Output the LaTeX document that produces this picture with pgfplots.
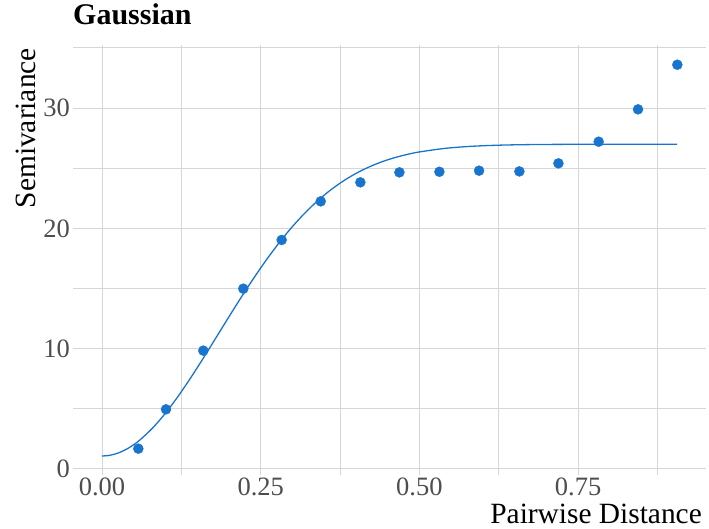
\documentclass[border=0pt]{standalone}
\usepackage{fontspec}
\setmainfont{Liberation Serif}
\usepackage{pgfplots}
\pgfplotsset{compat=1.18}
\definecolor{ptc}{HTML}{1874CD}
\definecolor{grd}{HTML}{D6D6D6}
\definecolor{tk}{HTML}{4D4D4D}
\begin{document}
\begin{tikzpicture}
\useasboundingbox (0,0) rectangle (709pt,529pt);
\begin{axis}[
  at={(73pt,54pt)}, anchor=south west,
  scale only axis, width=633pt, height=430pt,
  xmin=-0.0457, xmax=0.9515, ymin=-0.5, ymax=35.25,
  axis line style={draw=none},
  major tick length=0pt, minor tick length=0pt,
  xtick={0,0.25,0.5,0.75}, ytick={0,10,20,30},
  minor xtick={0.125,0.375,0.625,0.875}, minor ytick={5,15,25,35},
  grid=both,
  major grid style={draw=grd, line width=1pt},
  minor grid style={draw=grd, line width=1pt},
  /pgf/number format/assume math mode=true,
  tick label style={font=\fontsize{26.5}{30}\selectfont, text=tk, inner sep=0pt},
  yticklabel style={anchor=east, xshift=-3pt},
  xticklabel style={anchor=north, yshift=-3pt,
    /pgf/number format/fixed, /pgf/number format/fixed zerofill,
    /pgf/number format/precision=2},
  title={\textbf{Gaussian}},
  title style={at={(axis description cs:0,1.0333)}, anchor=base west, inner sep=0pt,
    font=\fontsize{30}{34}\selectfont},
  xlabel={Pairwise Distance},
  xlabel style={at={(axis description cs:0.99368,-0.11395)}, anchor=base east, inner sep=0pt,
    font=\fontsize{29.4}{34}\selectfont},
  ylabel={Semivariance},
  ylabel style={at={(axis description cs:-0.06003,0.99302)}, anchor=base east, inner sep=0pt,
    font=\fontsize{29.4}{34}\selectfont},
]
\addplot[ptc, line width=1.3pt, no marks, smooth] coordinates {
(0,1.080) (0.01,1.118) (0.02,1.233) (0.03,1.423) (0.04,1.686) (0.05,2.020) (0.06,2.424) (0.08,3.421) (0.10,4.643)
(0.12,6.053) (0.14,7.604) (0.16,9.250) (0.18,10.951) (0.20,12.656) (0.22,14.333)
(0.24,15.946) (0.26,17.464) (0.28,18.872) (0.30,20.155) (0.32,21.300) (0.34,22.314)
(0.36,23.190) (0.38,23.939) (0.40,24.569) (0.42,25.092) (0.44,25.523) (0.46,25.867)
(0.48,26.142) (0.50,26.358) (0.54,26.653) (0.58,26.821) (0.62,26.912) (0.66,26.959)
(0.70,26.982) (0.75,26.994) (0.80,26.999) (0.85,27.0) (0.906,27.0)
};
\addplot[only marks, mark=*, mark size=5pt, ptc, mark options={draw=ptc, fill=ptc}] coordinates {
(0.0572,1.69) (0.1008,4.96) (0.1596,9.84) (0.2226,14.99) (0.2830,19.04)
(0.3445,22.25) (0.4070,23.83) (0.4685,24.66) (0.5315,24.71) (0.5940,24.80)
(0.6575,24.74) (0.7190,25.41) (0.7824,27.21) (0.8444,29.90) (0.9063,33.61)
};
\end{axis}
\end{tikzpicture}
\end{document}
